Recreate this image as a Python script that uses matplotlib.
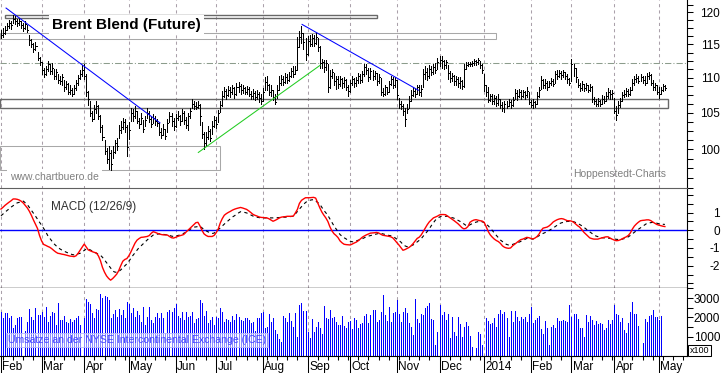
import numpy as np
import pandas as pd
import matplotlib
matplotlib.use("Agg")
import matplotlib.pyplot as plt
from matplotlib.patches import Rectangle
from matplotlib.ticker import NullFormatter
from matplotlib.transforms import blended_transform_factory

plt.rcParams['font.family'] = ['Liberation Sans', 'DejaVu Sans']
plt.rcParams['axes.unicode_minus'] = False

# Brent Blend (Future), daily bars from 1 Feb 2013
high = [
    117.3, 117.5, 117.8, 118.4, 118.8, 118.6, 119.6, 119.4, 119.0, 119.1,
    118.7, 118.3, 118.6, 118.0, 116.4, 115.8, 115.2, 115.3, 113.9, 113.1,
    112.3, 111.5, 111.7, 112.5, 112.1, 112.2, 111.3, 111.3, 110.6, 110.2,
    110.5, 109.7, 109.5, 109.2, 108.9, 108.5, 109.0, 109.7, 110.4, 111.1,
    111.9, 112.0, 110.5, 108.1, 106.7, 105.3, 106.1, 106.6, 106.1, 104.7,
    103.3, 101.3, 100.2, 100.5, 99.9, 100.4, 101.3, 101.5, 103.3, 103.9,
    104.3, 104.1, 103.3, 103.7, 105.7, 105.5, 105.9, 105.3, 104.3, 105.0,
    104.0, 104.5, 105.6, 105.2, 104.5, 104.8, 104.6, 104.2, 103.7, 102.9,
    103.4, 102.8, 104.1, 105.1, 105.0, 104.3, 104.8, 105.2, 104.7, 105.5,
    105.2, 104.4, 105.0, 105.7, 106.9, 106.7, 106.5, 106.6, 106.2, 103.7,
    102.3, 102.4, 103.2, 102.7, 103.8, 104.5, 104.4, 105.4, 106.6, 108.1,
    108.6, 108.4, 108.8, 108.6, 109.0, 108.7, 109.3, 109.4, 109.1, 109.0,
    108.7, 108.8, 108.6, 108.1, 108.4, 108.1, 108.3, 108.0, 107.6, 108.5,
    110.1, 110.2, 109.1, 108.9, 108.2, 107.6, 108.9, 110.2, 110.4, 110.3,
    110.7, 110.6, 110.9, 111.5, 111.7, 111.7, 116.1, 117.0, 117.8, 116.8,
    116.0, 116.3, 116.4, 116.6, 116.5, 116.8, 116.0, 114.7, 112.8, 112.7,
    112.6, 112.1, 111.1, 111.3, 110.7, 110.3, 110.2, 110.2, 110.0, 110.1,
    109.9, 109.0, 109.7, 110.2, 110.0, 110.1, 110.7, 110.6, 111.0, 112.1,
    112.0, 111.5, 111.4, 111.1, 111.0, 110.7, 110.5, 110.0, 108.5, 109.0,
    108.7, 109.5, 110.3, 110.1, 110.1, 109.7, 107.1, 106.6, 106.2, 105.7,
    106.3, 107.3, 108.3, 108.7, 108.5, 109.0, 108.9, 108.9, 111.3, 111.7,
    111.5, 111.9, 111.7, 112.1, 112.2, 112.9, 113.2, 113.2, 112.7, 112.7,
    111.9, 111.0, 110.7, 110.4, 110.3, 110.1, 110.1, 109.7, 112.1, 112.3,
    112.4, 112.4, 112.5, 112.8, 112.7, 113.0, 112.5, 112.0, 110.5, 109.0,
    108.6, 107.7, 107.6, 107.5, 107.3, 107.6, 107.0, 106.5, 106.6, 106.7,
    106.9, 106.8, 107.2, 108.4, 108.2, 108.4, 108.3, 108.3, 108.1, 108.6,
    107.9, 106.8, 106.9, 106.7, 107.9, 108.7, 110.2, 109.9, 109.8, 109.5,
    109.6, 110.0, 109.8, 111.0, 111.1, 111.2, 111.0, 111.2, 110.9, 110.6,
    110.0, 112.8, 112.0, 111.5, 109.9, 109.3, 109.5, 109.1, 109.3, 109.0,
    109.1, 108.8, 107.2, 107.0, 107.1, 106.8, 107.5, 107.4, 108.0, 108.5,
    108.3, 108.3, 107.1, 105.9, 106.6, 107.1, 108.0, 108.3, 108.5, 108.4,
    108.7, 109.8, 110.2, 110.5, 110.3, 110.5, 110.3, 110.2, 110.7, 110.9,
    110.5, 109.7, 109.3, 108.9, 108.6, 108.7, 109.1, 108.9,
]
low = [
    116.0, 116.2, 116.6, 117.2, 117.6, 117.4, 118.3, 118.2, 117.9, 118.0,
    117.5, 117.0, 117.4, 116.9, 114.9, 114.6, 113.8, 114.1, 112.7, 111.9,
    110.6, 110.1, 110.4, 111.0, 110.6, 110.6, 109.9, 109.9, 109.3, 109.1,
    109.0, 108.1, 108.4, 107.6, 107.7, 107.3, 107.6, 108.2, 109.0, 109.8,
    110.3, 109.9, 107.3, 106.1, 104.5, 103.8, 104.2, 105.0, 104.1, 102.3,
    101.2, 99.4, 98.2, 97.4, 97.3, 98.9, 99.5, 99.9, 101.5, 102.2,
    102.8, 102.4, 99.1, 101.4, 103.9, 103.9, 104.3, 103.6, 102.9, 103.4,
    102.3, 103.2, 104.3, 103.7, 103.0, 103.6, 103.3, 103.2, 102.0, 101.5,
    101.9, 101.4, 102.3, 103.7, 103.2, 102.6, 103.0, 104.0, 103.3, 103.8,
    103.4, 102.9, 102.6, 104.3, 105.6, 105.5, 105.5, 105.6, 103.3, 101.6,
    100.0, 100.5, 101.4, 101.1, 102.1, 103.0, 102.9, 103.7, 105.1, 105.9,
    107.2, 107.0, 107.3, 107.2, 107.6, 107.1, 107.5, 108.0, 107.7, 107.8,
    107.6, 107.7, 107.3, 106.9, 107.0, 106.8, 106.9, 106.5, 106.2, 106.7,
    108.2, 108.3, 107.5, 107.3, 106.8, 106.2, 107.1, 108.3, 109.0, 109.0,
    109.2, 109.2, 109.5, 110.1, 110.1, 110.5, 111.2, 114.6, 115.2, 114.3,
    112.6, 113.4, 114.7, 114.8, 114.8, 115.0, 114.0, 111.4, 111.5, 110.9,
    111.1, 108.0, 108.5, 110.0, 108.9, 108.4, 108.5, 108.8, 108.5, 108.7,
    108.3, 107.3, 107.9, 109.0, 108.7, 108.8, 109.3, 109.2, 109.4, 110.2,
    110.5, 109.6, 109.8, 109.7, 109.9, 108.9, 109.3, 107.5, 107.3, 107.5,
    107.6, 108.0, 108.9, 108.5, 108.7, 107.0, 105.7, 105.5, 104.7, 103.2,
    104.9, 105.6, 106.7, 107.3, 107.2, 107.6, 107.5, 107.3, 108.6, 109.9,
    109.7, 110.0, 110.4, 110.6, 110.7, 111.3, 111.8, 111.5, 111.3, 111.4,
    109.9, 109.4, 109.5, 109.0, 108.9, 108.7, 108.5, 108.4, 108.7, 111.3,
    111.7, 111.7, 111.8, 111.9, 111.9, 112.1, 111.5, 110.7, 108.1, 107.3,
    106.5, 106.6, 106.3, 106.3, 105.9, 106.1, 105.7, 105.2, 105.1, 105.6,
    105.9, 105.7, 106.0, 106.9, 106.8, 107.2, 107.0, 107.2, 106.9, 107.2,
    106.2, 105.8, 105.7, 105.8, 106.3, 107.2, 108.4, 108.5, 108.5, 108.2,
    108.6, 108.9, 108.8, 109.3, 109.9, 110.1, 109.9, 110.1, 109.8, 109.3,
    108.9, 109.5, 110.3, 109.4, 108.6, 108.1, 108.2, 108.1, 108.2, 108.0,
    108.1, 106.5, 106.3, 105.9, 106.0, 105.9, 106.3, 106.4, 106.6, 107.1,
    106.9, 107.0, 104.9, 104.0, 105.0, 105.8, 106.7, 107.2, 107.4, 107.3,
    107.5, 108.3, 108.9, 109.4, 109.2, 109.5, 109.3, 109.0, 109.2, 109.8,
    108.9, 108.2, 108.3, 107.7, 107.1, 107.6, 108.1, 108.3,
]
close = [
    116.5, 116.8, 117.3, 117.8, 118.3, 118.0, 119.0, 118.7, 118.4, 118.6,
    118.0, 117.6, 118.2, 117.3, 115.7, 115.1, 114.3, 114.7, 113.0, 112.4,
    111.1, 110.5, 111.3, 112.0, 111.0, 111.5, 110.3, 110.9, 109.7, 109.5,
    110.1, 108.6, 109.1, 108.0, 108.3, 107.6, 108.5, 109.3, 110.0, 110.6,
    111.2, 110.3, 107.9, 106.9, 104.9, 104.1, 105.5, 106.0, 104.6, 103.0,
    101.7, 99.8, 98.7, 99.5, 98.1, 99.6, 100.8, 100.4, 102.6, 103.1,
    103.7, 103.0, 100.3, 102.6, 105.0, 104.5, 105.2, 103.9, 103.4, 104.3,
    102.8, 104.0, 105.0, 104.2, 103.5, 104.3, 103.8, 103.6, 102.4, 102.0,
    102.7, 101.8, 103.6, 104.6, 103.9, 103.2, 104.3, 104.6, 103.8, 104.9,
    104.0, 103.3, 104.5, 105.3, 106.3, 106.0, 105.8, 106.1, 104.5, 102.1,
    100.8, 101.7, 102.5, 101.5, 103.2, 104.0, 103.5, 104.9, 106.1, 107.3,
    108.1, 107.5, 108.3, 107.9, 108.5, 107.7, 108.6, 108.8, 108.2, 108.5,
    107.9, 108.4, 107.6, 107.3, 107.8, 107.2, 107.7, 107.1, 106.6, 108.0,
    109.4, 108.9, 108.0, 108.3, 107.2, 106.5, 108.3, 109.3, 109.9, 109.4,
    110.1, 109.7, 110.3, 111.0, 110.6, 111.2, 114.6, 116.2, 116.8, 115.3,
    113.6, 115.5, 115.0, 116.0, 115.2, 116.1, 114.6, 112.2, 112.4, 111.6,
    112.2, 108.7, 110.3, 110.9, 109.5, 109.9, 109.1, 109.8, 109.2, 109.7,
    108.7, 108.1, 109.3, 109.9, 109.2, 109.7, 110.3, 109.7, 110.5, 111.6,
    111.2, 110.1, 111.0, 110.3, 110.7, 109.6, 110.1, 107.9, 107.6, 108.6,
    108.0, 109.1, 109.9, 108.9, 109.7, 107.5, 106.3, 105.9, 105.2, 104.1,
    105.5, 106.6, 107.5, 108.1, 107.7, 108.6, 108.0, 108.4, 110.5, 110.9,
    110.2, 111.3, 110.8, 111.6, 111.2, 112.4, 112.7, 112.5, 111.9, 112.3,
    110.7, 110.0, 110.3, 109.5, 109.9, 109.2, 109.6, 108.8, 111.3, 111.9,
    112.1, 112.0, 112.2, 112.5, 112.3, 112.6, 111.9, 111.1, 108.9, 107.9,
    106.8, 107.3, 106.6, 107.1, 106.4, 106.9, 106.1, 105.6, 106.2, 105.9,
    106.5, 106.1, 106.8, 107.8, 107.3, 108.0, 107.4, 107.9, 107.5, 108.1,
    106.5, 106.1, 106.5, 106.2, 107.3, 108.3, 109.7, 108.9, 109.3, 108.6,
    109.2, 109.5, 109.1, 110.5, 110.3, 110.7, 110.4, 110.8, 110.2, 109.8,
    109.3, 112.1, 111.4, 110.1, 109.0, 108.5, 109.1, 108.5, 108.9, 108.3,
    108.7, 107.0, 106.6, 106.2, 106.7, 106.3, 107.0, 106.7, 107.4, 108.0,
    107.6, 107.8, 105.3, 104.7, 106.1, 106.6, 107.5, 107.7, 108.1, 107.6,
    108.3, 109.3, 109.8, 110.0, 109.6, 110.1, 109.7, 109.3, 110.2, 110.4,
    109.3, 108.6, 108.9, 108.0, 107.6, 108.3, 108.8, 108.5,
]
macd = [
    1.20, 1.30, 1.41, 1.50, 1.59, 1.67, 1.77, 1.77, 1.75, 1.71,
    1.64, 1.54, 1.40, 1.26, 1.07, 0.84, 0.58, 0.34, 0.10, -0.30,
    -0.60, -0.80, -0.85, -0.91, -0.96, -1.04, -1.14, -1.23, -1.30, -1.32,
    -1.35, -1.37, -1.40, -1.43, -1.46, -1.47, -1.49, -1.44, -1.30, -1.12,
    -0.95, -0.78, -0.94, -1.11, -1.16, -1.21, -1.25, -1.28, -1.45, -1.72,
    -2.10, -2.37, -2.58, -2.72, -2.82, -2.73, -2.61, -2.48, -2.28, -2.00,
    -1.75, -1.65, -1.60, -1.44, -1.22, -0.97, -0.73, -0.56, -0.47, -0.40,
    -0.39, -0.37, -0.35, -0.30, -0.17, -0.08, -0.12, -0.17, -0.21, -0.24,
    -0.26, -0.26, -0.27, -0.35, -0.42, -0.44, -0.40, -0.35, -0.31, -0.28,
    -0.24, -0.12, -0.01, 0.10, 0.21, 0.32, 0.43, 0.45, 0.25, 0.00,
    -0.20, -0.29, -0.35, -0.35, -0.35, -0.29, -0.14, 0.07, 0.41, 0.66,
    0.85, 0.94, 1.01, 1.07, 1.14, 1.19, 1.23, 1.26, 1.29, 1.26,
    1.22, 1.18, 1.10, 1.01, 0.91, 0.85, 0.81, 0.76, 0.73, 0.72,
    0.71, 0.70, 0.65, 0.58, 0.51, 0.56, 0.62, 0.69, 0.74, 0.76,
    0.77, 0.79, 0.79, 0.79, 0.80, 0.98, 1.18, 1.52, 1.69, 1.77,
    1.84, 1.84, 1.84, 1.85, 1.86, 1.82, 1.55, 1.28, 1.04, 0.86,
    0.70, 0.50, 0.20, -0.03, -0.19, -0.29, -0.41, -0.60, -0.71, -0.79,
    -0.81, -0.82, -0.83, -0.78, -0.72, -0.67, -0.59, -0.49, -0.39, -0.32,
    -0.26, -0.21, -0.16, -0.15, -0.14, -0.12, -0.15, -0.22, -0.28, -0.30,
    -0.32, -0.34, -0.37, -0.43, -0.56, -0.70, -0.83, -0.98, -1.13, -1.09,
    -1.03, -0.97, -0.88, -0.75, -0.60, -0.46, -0.39, -0.26, -0.07, 0.12,
    0.32, 0.48, 0.59, 0.70, 0.75, 0.80, 0.87, 0.89, 0.89, 0.88,
    0.80, 0.72, 0.64, 0.56, 0.47, 0.38, 0.27, 0.15, 0.08, 0.11,
    0.21, 0.45, 0.53, 0.58, 0.60, 0.57, 0.54, 0.52, 0.45, 0.20,
    -0.07, -0.26, -0.39, -0.50, -0.58, -0.64, -0.74, -0.88, -0.96, -1.00,
    -1.02, -1.00, -0.88, -0.79, -0.70, -0.61, -0.53, -0.50, -0.45, -0.40,
    -0.42, -0.46, -0.49, -0.44, -0.36, -0.22, -0.02, 0.12, 0.15, 0.18,
    0.25, 0.35, 0.47, 0.54, 0.60, 0.64, 0.66, 0.64, 0.59, 0.54,
    0.54, 0.52, 0.46, 0.36, 0.26, 0.18, 0.05, -0.10, -0.21, -0.32,
    -0.43, -0.47, -0.50, -0.50, -0.50, -0.46, -0.43, -0.40, -0.37, -0.37,
    -0.44, -0.50, -0.55, -0.59, -0.58, -0.54, -0.48, -0.42, -0.37, -0.29,
    -0.15, 0.07, 0.24, 0.36, 0.46, 0.54, 0.56, 0.57, 0.59, 0.59,
    0.55, 0.47, 0.40, 0.33, 0.29, 0.26, 0.23, 0.21,
]
signal = [
    0.82, 0.92, 1.02, 1.12, 1.21, 1.31, 1.39, 1.47, 1.55, 1.58,
    1.62, 1.65, 1.55, 1.45, 1.29, 1.13, 0.96, 0.80, 0.63, 0.47,
    0.30, 0.11, -0.08, -0.29, -0.45, -0.60, -0.75, -0.86, -0.96, -1.05,
    -1.12, -1.18, -1.23, -1.28, -1.32, -1.37, -1.39, -1.36, -1.33, -1.30,
    -1.22, -1.14, -1.06, -1.05, -1.11, -1.18, -1.24, -1.30, -1.35, -1.41,
    -1.53, -1.68, -1.82, -1.97, -2.13, -2.30, -2.36, -2.38, -2.33, -2.24,
    -2.12, -2.01, -1.90, -1.75, -1.59, -1.42, -1.27, -1.12, -0.98, -0.88,
    -0.77, -0.66, -0.55, -0.45, -0.36, -0.27, -0.24, -0.22, -0.20, -0.21,
    -0.23, -0.25, -0.26, -0.29, -0.33, -0.35, -0.32, -0.30, -0.27, -0.22,
    -0.17, -0.12, -0.05, 0.04, 0.12, 0.18, 0.19, 0.21, 0.22, 0.14,
    0.04, -0.03, -0.09, -0.13, -0.18, -0.16, -0.06, 0.04, 0.13, 0.24,
    0.35, 0.45, 0.55, 0.65, 0.75, 0.82, 0.90, 0.98, 1.05, 1.03,
    1.01, 0.98, 0.93, 0.87, 0.81, 0.77, 0.74, 0.72, 0.70, 0.70,
    0.70, 0.70, 0.70, 0.70, 0.70, 0.71, 0.71, 0.72, 0.73, 0.74,
    0.74, 0.75, 0.77, 0.78, 0.79, 0.92, 1.06, 1.20, 1.33, 1.46,
    1.57, 1.65, 1.69, 1.72, 1.73, 1.65, 1.57, 1.48, 1.30, 1.13,
    0.99, 0.84, 0.65, 0.45, 0.25, 0.09, -0.08, -0.24, -0.34, -0.42,
    -0.49, -0.57, -0.62, -0.65, -0.65, -0.60, -0.56, -0.53, -0.48, -0.42,
    -0.37, -0.33, -0.30, -0.27, -0.24, -0.21, -0.18, -0.17, -0.20, -0.23,
    -0.25, -0.29, -0.31, -0.34, -0.42, -0.50, -0.58, -0.67, -0.80, -0.88,
    -0.93, -0.90, -0.87, -0.83, -0.74, -0.66, -0.57, -0.47, -0.33, -0.20,
    -0.06, 0.09, 0.27, 0.42, 0.58, 0.66, 0.75, 0.79, 0.79, 0.79,
    0.79, 0.76, 0.72, 0.69, 0.63, 0.57, 0.51, 0.44, 0.36, 0.28,
    0.24, 0.31, 0.37, 0.42, 0.46, 0.49, 0.52, 0.48, 0.43, 0.35,
    0.25, 0.12, -0.01, -0.15, -0.29, -0.42, -0.55, -0.64, -0.72, -0.80,
    -0.83, -0.82, -0.80, -0.76, -0.72, -0.68, -0.63, -0.58, -0.52, -0.46,
    -0.46, -0.48, -0.50, -0.44, -0.37, -0.31, -0.24, -0.18, -0.13, -0.07,
    -0.01, 0.06, 0.13, 0.21, 0.29, 0.37, 0.42, 0.45, 0.48, 0.50,
    0.50, 0.50, 0.49, 0.44, 0.38, 0.33, 0.26, 0.18, 0.09, 0.00,
    -0.09, -0.17, -0.27, -0.32, -0.36, -0.40, -0.42, -0.43, -0.44, -0.45,
    -0.46, -0.48, -0.49, -0.51, -0.52, -0.54, -0.50, -0.47, -0.43, -0.37,
    -0.29, -0.20, -0.11, -0.02, 0.06, 0.14, 0.22, 0.30, 0.38, 0.42,
    0.43, 0.45, 0.43, 0.40, 0.37, 0.35, 0.34, 0.33,
]
# turnover at ICE, in units of 100 contracts (axis says x100)
volume = [
    2300, 1990, 2210, 2250, 1960, 2080, 1440, 1600, 1960, 2040,
    2040, 0, 1310, 1790, 2440, 2040, 1870, 2500, 2130, 2130,
    2270, 2040, 2560, 1790, 2090, 2300, 2210, 1620, 2730, 1890,
    1870, 2080, 1790, 1720, 1910, 1790, 1870, 1990, 2090, 1620,
    0, 1990, 2950, 2780, 2680, 2210, 1960, 2420, 2390, 3190,
    3020, 3100, 3030, 2900, 1960, 2180, 2390, 2040, 2440, 2130,
    2390, 1990, 2780, 2690, 2210, 2500, 2010, 2330, 2130, 1790,
    2560, 1620, 2040, 2560, 1870, 1700, 2040, 2210, 1960, 2210,
    1960, 1220, 2300, 2390, 2270, 2470, 2680, 2080, 1960, 2300,
    1870, 2300, 2040, 2080, 2270, 1700, 1910, 1960, 2900, 2730,
    2080, 2330, 1700, 1870, 2040, 1620, 2040, 1960, 2500, 2300,
    1750, 1910, 1870, 1750, 2090, 1870, 2160, 2040, 1850, 1820,
    1960, 1990, 1870, 1700, 1750, 1310, 1960, 1990, 2210, 2270,
    1440, 1530, 2160, 1790, 1990, 1350, 1140, 900, 760, 2080,
    1960, 1790, 2250, 1820, 1530, 2210, 970, 2640, 2760, 2330,
    2330, 1270, 930, 1920, 1270, 1530, 1790, 1480, 1170, 2590,
    1960, 1910, 2370, 1960, 2040, 1750, 1620, 1620, 2090, 1580,
    1440, 1790, 1820, 1410, 1960, 1870, 1480, 1650, 1700, 2080,
    2160, 1700, 2130, 2380, 2360, 1780, 1870, 2300, 3150, 2130,
    1810, 2550, 1780, 2250, 2300, 2900, 2200, 1780, 2300, 2480,
    2250, 1700, 1530, 1100, 2930, 1900, 1700, 2200, 2130, 2480,
    2590, 2730, 1900, 1870, 570, 1270, 2640, 2130, 2270, 1870,
    2170, 930, 2040, 1270, 1020, 2040, 1670, 990, 1500, 1780,
    1560, 1020, 500, 0, 420, 1270, 1150, 600, 0, 1950,
    1840, 1650, 1700, 1950, 1530, 2200, 2360, 2200, 2270, 1950,
    990, 2340, 1780, 2340, 2010, 1840, 2040, 1900, 2040, 1780,
    2200, 2550, 1730, 1870, 1950, 2100, 1390, 1130, 1840, 1450,
    570, 1500, 1590, 1440, 1950, 1840, 1800, 1870, 1840, 1780,
    2640, 2040, 2170, 2200, 1900, 1450, 1440, 990, 2130, 1770,
    2080, 1870, 1600, 1840, 1670, 1730, 1640, 1360, 1440, 1870,
    1670, 1870, 2640, 2200, 2130, 1780, 1950, 1360, 1190, 1700,
    2300, 2810, 2200, 2170, 1560, 0, 710, 1900, 1780, 2080,
    2130, 2380, 2040, 2040, 1870, 2080, None, None,
]

month_labels = ['Feb', 'Mar', 'Apr', 'May', 'Jun', 'Jul', 'Aug', 'Sep',
                'Oct', 'Nov', 'Dec', '2014', 'Feb', 'Mar', 'Apr', 'May']
price_ticks = [100, 105, 110, 115, 120]
macd_ticks = [-2, -1, 0, 1]
vol_ticks = [1000, 2000, 3000]

# lines drawn on the chart by hand: (day index, price)
trend_blue_1 = ([2.5, 78.3], [120.7, 103.6])
trend_blue_2 = ([148.3, 205.6], [118.1, 108.2])
trend_green = ([97.2, 157.2], [99.6, 111.85])
resist_level = 112.2
boxes_dark = [(2.1, 185.4, 119.08, 119.56), (-0.5, 328.6, 105.73, 107.0)]
boxes_light = [(-0.5, 243.7, 115.82, 116.75), (-0.5, 107.9, 97.33, 100.46)]

# ---------------------------------------------------------------
n = len(close)
x = np.arange(n)
days = pd.bdate_range('2013-02-01', periods=345)
XL = (-0.48, 337.9)
month_pos = [0] + [i for i in range(1, len(days)) if days[i].month != days[i - 1].month]
month_pos = [p for p in month_pos if p < XL[1]]
monday_pos = [i for i in range(int(XL[1])) if days[i].dayofweek == 0]

W, H = 723, 373
fig = plt.figure(figsize=(W / 100, H / 100), dpi=100)


def panel(top, bottom):
    return fig.add_axes([0, 1 - bottom / H, 687 / W, (bottom - top) / H])


ax_p = panel(0, 188)
ax_m = panel(188, 288.3)
ax_v = panel(288.3, 356.3)

ax_p.set_yscale('log')
ax_p.set_ylim(95.17, 122.0)
ax_p.set_yticks(price_ticks, [str(t) for t in price_ticks], ha='right')
ax_p.set_yticks(np.arange(95, 122.1, 1.25), minor=True)
ax_p.yaxis.set_minor_formatter(NullFormatter())

ax_m.set_ylim(-3.28, 2.39)
ax_m.set_yticks(macd_ticks, [str(t) for t in macd_ticks], ha='right')
ax_m.set_yticks(np.arange(-3, 2.01, 0.5), minor=True)

ax_v.set_ylim(0, 3500)
ax_v.set_yticks(vol_ticks, [str(t) for t in vol_ticks], ha='right')
ax_v.set_yticks([500, 1500, 2500, 3500], minor=True)

grid_kw = dict(color='#aaa0aa', lw=0.75, ls=(0, (3, 3)), zorder=0)
for ax in (ax_p, ax_m, ax_v):
    ax.set_xlim(*XL)
    for p in month_pos:
        ax.axvline(p, **grid_kw)
    for s in ('left', 'top', 'bottom'):
        ax.spines[s].set_visible(False)
    ax.spines['right'].set_linewidth(0.8)
    ax.yaxis.tick_right()
    ax.tick_params(axis='y', which='both', direction='out', length=4.3,
                   width=0.75, labelsize=8.5, pad=19.5, left=False, right=True)
    ax.tick_params(axis='x', which='both', bottom=False, labelbottom=False)

ax_m.spines['top'].set_visible(True)
ax_m.spines['top'].set_color('#606060')
ax_m.spines['top'].set_linewidth(0.8)
ax_m.spines['bottom'].set_visible(True)
ax_m.spines['bottom'].set_linewidth(1.0)
ax_v.spines['bottom'].set_visible(True)
ax_v.spines['bottom'].set_linewidth(0.8)

# price bars, one pixel wide like the original
ax_p.vlines(x, low, high, color='black', lw=0.5, zorder=3, antialiased=False)
ax_p.hlines(close, x, x + 0.5, color='black', lw=0.5, zorder=3, antialiased=False)

ax_p.axhline(resist_level, color='#8c9c8c', lw=0.75, ls=(0, (6, 2, 1, 2)), zorder=1)
for x0, x1, p0, p1 in boxes_dark:
    ax_p.add_patch(Rectangle((x0, p0), x1 - x0, p1 - p0, fill=False,
                             ec='#686868', lw=1.0, zorder=2))
for x0, x1, p0, p1 in boxes_light:
    ax_p.add_patch(Rectangle((x0, p0), x1 - x0, p1 - p0, fill=False,
                             ec='#a8a8a8', lw=0.75, zorder=2))
ax_p.plot(*trend_blue_1, color='#0000ff', lw=0.75, zorder=4)
ax_p.plot(*trend_blue_2, color='#0000ff', lw=0.75, zorder=4)
ax_p.plot(*trend_green, color='#22cc22', lw=0.75, zorder=4)

# MACD
ax_m.axhline(0, color='#0000ff', lw=1.0, zorder=2)
ax_m.plot(x, signal, color='black', lw=0.8, ls=(0, (3, 3)), zorder=3)
ax_m.plot(x, macd, color='#ff0000', lw=1.0, zorder=4)

# volume
ax_v.vlines(x, 0, np.array(volume, dtype=float), color='#0000ff', lw=0.5,
            zorder=2, antialiased=False)

ax_v.set_xticks(month_pos)
ax_v.set_xticks(monday_pos, minor=True)
ax_v.tick_params(axis='x', which='major', bottom=True, length=12.5, width=0.75, direction='out')
ax_v.tick_params(axis='x', which='minor', bottom=True, length=3, width=0.75, direction='out')
trans = blended_transform_factory(ax_v.transData, ax_v.transAxes)
for p, lab in zip(month_pos, month_labels):
    ax_v.text(p + 0.75, -(369.8 - 356.3) / 68, lab, transform=trans, ha='left',
              va='baseline', fontsize=8.5, clip_on=False)


def fx(px):
    return px / W


def fy(py):
    return 1 - py / H


fig.text(fx(126.5), fy(25), 'Brent Blend (Future)', ha='center', va='center',
         fontsize=11, fontweight='bold',
         bbox=dict(boxstyle='square,pad=0.2', fc='white', ec='none'))
fig.text(fx(10), fy(177.5), 'www.chartbuero.de', ha='left', va='center',
         fontsize=7.5, color='#808080',
         bbox=dict(boxstyle='square,pad=0.3', fc='white', ec='none'))
fig.text(fx(573), fy(174), 'Hoppenstedt-Charts', ha='left', va='center',
         fontsize=7.5, color='#808080')
fig.text(fx(51), fy(207), 'MACD (12/26/9)', ha='left', va='center',
         fontsize=8.5, color='#303030')
fig.text(fx(8), fy(340), 'Umsätze an der NYSE Intercontinental Exchange (ICE)',
         ha='left', va='center', fontsize=7.6, color='#4545ff',
         bbox=dict(boxstyle='square,pad=0.2', fc=(1, 1, 1, 0.55), ec='#b8b8ff', lw=0.6))
fig.text(fx(699.5), fy(350.5), 'x100', ha='center', va='center', fontsize=6.5,
         bbox=dict(boxstyle='square,pad=0.15', fc='white', ec='black', lw=0.75))

fig.savefig('out.png', dpi=100)
